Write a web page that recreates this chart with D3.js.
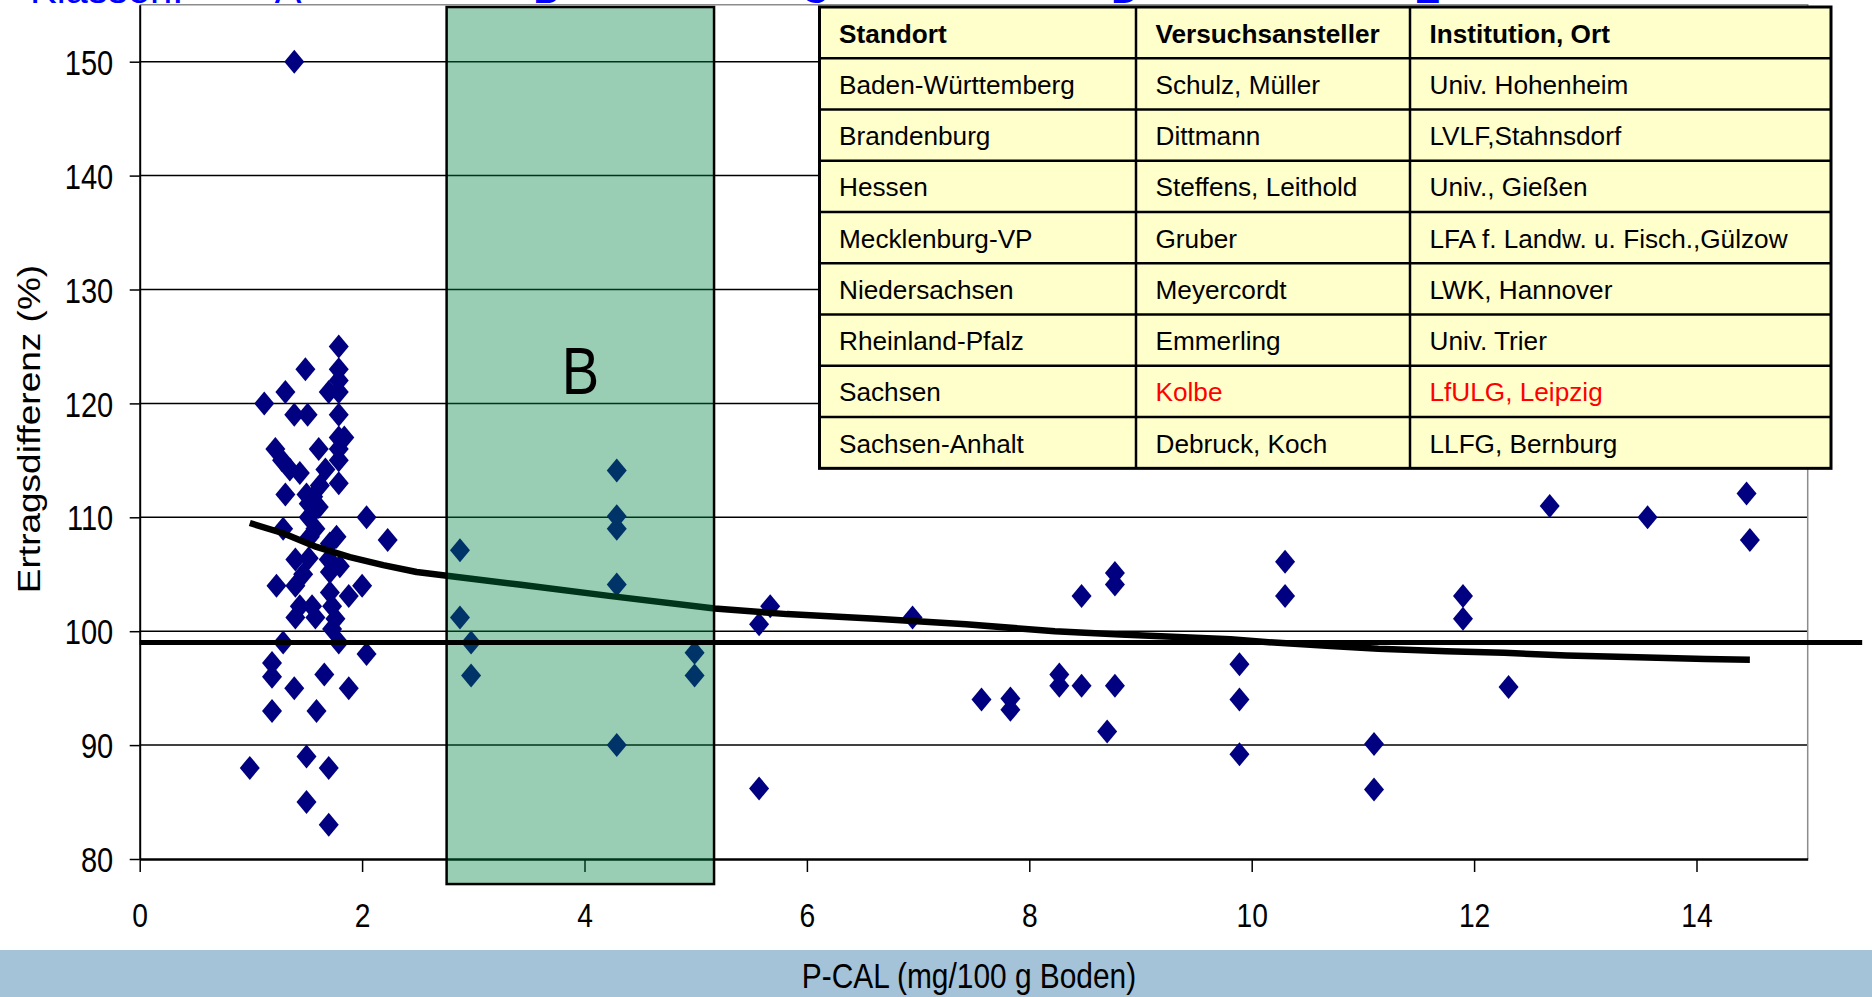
<!DOCTYPE html>
<html>
<head>
<meta charset="utf-8">
<script src="https://cdn.jsdelivr.net/npm/d3@7"></script>
<style>
  body { margin: 0; background: #fff; overflow: hidden; }
  svg { display: block; font-family: "Liberation Sans", Arial, sans-serif; }
</style>
</head>
<body>
<script>
// P-CAL values (mg/100 g Boden) and yield difference (%) per trial
const pCal = [
  1.39, 1.79, 1.49, 1.79, 1.79, 1.70, 1.79, 1.31, 1.12, 1.39,
  1.51, 1.79, 1.79, 1.84, 1.22, 1.61, 1.79, 1.28, 1.79, 1.35,
  1.44, 1.67, 1.79, 1.31, 1.50, 1.62, 1.56, 1.52, 1.61, 1.52,
  2.04, 1.29, 1.58, 1.77, 2.23, 1.71, 1.53, 1.40, 1.52, 1.70,
  1.80, 1.47, 1.71, 1.23, 1.40, 2.00, 1.71, 1.88, 1.44, 1.55,
  1.73, 1.40, 1.58, 1.76, 1.73, 1.29, 1.79, 2.04, 1.19, 1.19,
  1.66, 1.39, 1.88, 1.19, 1.59, 1.50, 0.99, 1.70, 1.50, 1.70,
  2.88, 2.88, 2.98, 2.98, 4.29, 4.29, 4.29, 4.29, 4.29, 4.99,
  4.99, 5.57, 5.67, 5.57, 6.95, 7.57, 7.83, 7.83, 8.27, 8.27,
  8.47, 8.47, 8.77, 8.77, 8.77, 8.70, 9.89, 9.89, 9.89, 10.30,
  10.30, 11.10, 11.10, 11.90, 11.90, 12.31, 12.68, 13.56, 14.45, 14.48
]
const ertrag = [
  150, 125, 123, 123, 122, 121, 121, 121, 120, 119,
  119, 119, 117, 117, 116, 116, 116, 115, 115, 114.2,
  113.9, 114.2, 113, 112, 112, 112.8, 111.8, 111.2, 110.9, 110,
  110, 109, 109, 108.3, 108, 107.7, 108.3, 106.3, 106.4, 106.3,
  105.7, 105, 105.2, 104, 104, 104, 103.4, 103.1, 102.2, 102.2,
  102.2, 101.2, 101.2, 101.1, 100.2, 99, 99, 98, 97.2, 96,
  96.2, 95, 95, 93, 93, 89, 88, 88, 85, 83,
  107.1, 101.2, 99, 96.1, 114.1, 110.1, 109, 104.1, 90, 98.1,
  96.1, 100.6, 102.2, 86.2, 101.2, 94, 94.1, 93.1, 96.2, 95.2,
  103.1, 95.2, 105.1, 104.1, 95.2, 91.2, 97.1, 94, 89.2, 106.1,
  103.1, 90.1, 86.1, 103.1, 101.1, 95.1, 111, 110, 112.1, 108
]

// trend line
const trendX = [0.99, 1.29, 1.59, 1.89, 2.19, 2.49, 3.41, 4.22, 5.17, 5.82, 6.62, 7.43,
                8.23, 8.82, 9.81, 10.20, 10.71, 11.14, 11.75, 12.27, 12.83, 13.47, 14.08, 14.48]
const trendY = [109.5, 108.6, 107.4, 106.5, 105.8, 105.2, 104.1, 103.1, 102.0, 101.5, 101.1, 100.6,
                100.0, 99.7, 99.3, 99.0, 98.7, 98.45, 98.25, 98.1, 97.87, 97.72, 97.55, 97.5]

const yTicks = [80, 90, 100, 110, 120, 130, 140, 150]
const xTicks = [0, 2, 4, 6, 8, 10, 12, 14]

const referenceValue = 99
const referenceEnd = 15.49
const bandB = [2.76, 5.165]
const bandLabel = 'B'

const tableHeader = ['Standort', 'Versuchsansteller', 'Institution, Ort']
const standort = ['Baden-Württemberg', 'Brandenburg', 'Hessen', 'Mecklenburg-VP',
                  'Niedersachsen', 'Rheinland-Pfalz', 'Sachsen', 'Sachsen-Anhalt']
const versuchsansteller = ['Schulz, Müller', 'Dittmann', 'Steffens, Leithold', 'Gruber',
                           'Meyercordt', 'Emmerling', 'Kolbe', 'Debruck, Koch']
const institution = ['Univ. Hohenheim', 'LVLF,Stahnsdorf', 'Univ., Gießen',
                     'LFA f. Landw. u. Fisch.,Gülzow', 'LWK, Hannover', 'Univ. Trier',
                     'LfULG, Leipzig', 'LLFG, Bernburg']
const highlightRow = 'Sachsen'

const klassenTitle = 'Klassen:'
const klassen = ['A', 'B', 'C', 'D', 'E']
const klassenPos = [288, 546, 815, 1125, 1427]

const xTitle = 'P-CAL (mg/100 g Boden)'
const yTitle = 'Ertragsdifferenz (%)'

const width = 1872
const height = 997
const squeeze = 0.83   // chart text is drawn horizontally condensed

const svg = d3.select('body')
  .append('svg')
  .attr('width', width)
  .attr('height', height)

const x = d3.scaleLinear().domain([0, 15]).range([139.7, 1807.7])
const y = d3.scaleLinear().domain([80, 155]).range([859, 4.75])

// grid lines
svg.append('g')
  .selectAll('line')
  .data(yTicks.filter(d => d > 80))
  .enter()
  .append('line')
  .attr('x1', x(0))
  .attr('x2', x(15))
  .attr('y1', d => y(d))
  .attr('y2', d => y(d))
  .attr('stroke', '#000')
  .attr('stroke-width', 1.5)

// plot area border (top + right)
svg.append('path')
  .attr('d', `M${x(0)},${y(155)}H${x(15)}V${y(80)}`)
  .attr('fill', 'none')
  .attr('stroke', '#8c8c8c')
  .attr('stroke-width', 1.5)

// y axis
const yAxis = svg.append('g')
  .attr('transform', `translate(${x(0)},0)`)
  .call(d3.axisLeft(y).tickValues(yTicks).tickSize(10).tickSizeOuter(0))
yAxis.select('.domain').attr('stroke', '#000').attr('stroke-width', 2)
yAxis.selectAll('.tick line').attr('stroke', '#000').attr('stroke-width', 1.5)
yAxis.selectAll('text')
  .attr('x', -26.5 / squeeze)
  .attr('dy', '0.36em')
  .attr('transform', `scale(${squeeze},1)`)
  .attr('font-size', 35)
  .attr('font-family', '"Liberation Sans", Arial, sans-serif')
  .attr('fill', '#000')

// x axis
const xAxis = svg.append('g')
  .attr('transform', `translate(0,${y(80)})`)
  .call(d3.axisBottom(x).tickValues(xTicks).tickSize(13).tickSizeOuter(0))
xAxis.select('.domain').attr('stroke', '#000').attr('stroke-width', 2.5)
xAxis.selectAll('.tick line').attr('stroke', '#000').attr('stroke-width', 1.5)
xAxis.selectAll('text')
  .attr('y', 68)
  .attr('dy', 0)
  .attr('transform', `scale(${squeeze},1)`)
  .attr('font-size', 34)
  .attr('font-family', '"Liberation Sans", Arial, sans-serif')
  .attr('fill', '#000')

// scatter points
const points = pCal.map((d, i) => ({ p: d, e: ertrag[i] }))
svg.append('g')
  .selectAll('path')
  .data(points)
  .enter()
  .append('path')
  .attr('d', 'M0,-12L10,0L0,12L-10,0Z')
  .attr('transform', d => `translate(${x(d.p)},${y(d.e)})`)
  .attr('fill', '#000080')

// trend line
const trend = trendX.map((d, i) => [d, trendY[i]])
svg.append('path')
  .datum(trend)
  .attr('d', d3.line().x(d => x(d[0])).y(d => y(d[1])))
  .attr('fill', 'none')
  .attr('stroke', '#000')
  .attr('stroke-width', 6.5)
  .attr('stroke-linejoin', 'round')

// class B band
svg.append('rect')
  .attr('x', x(bandB[0]))
  .attr('y', y(154.8))
  .attr('width', x(bandB[1]) - x(bandB[0]))
  .attr('height', y(77.8) - y(154.8))
  .attr('fill', 'rgb(0,130,68)')
  .attr('fill-opacity', 0.4)
  .attr('stroke', '#000')
  .attr('stroke-width', 2.5)

svg.append('text')
  .attr('transform', `translate(${(x(bandB[0]) + x(bandB[1])) / 2},394) scale(0.85,1)`)
  .attr('text-anchor', 'middle')
  .attr('font-size', 66)
  .attr('fill', '#000')
  .text(bandLabel)

// reference line
svg.append('line')
  .attr('x1', x(0))
  .attr('x2', x(referenceEnd))
  .attr('y1', y(referenceValue))
  .attr('y2', y(referenceValue))
  .attr('stroke', '#000')
  .attr('stroke-width', 5)

// table
const colX = [819.5, 1136, 1410, 1831]
const rowTop = 7
const rowH = 51.26
const rows = [tableHeader].concat(standort.map((s, i) => [s, versuchsansteller[i], institution[i]]))

const table = svg.append('g')
table.append('rect')
  .attr('x', colX[0])
  .attr('y', rowTop)
  .attr('width', colX[3] - colX[0])
  .attr('height', rowH * rows.length)
  .attr('fill', '#ffffcc')

table.selectAll('line.row')
  .data(d3.range(1, rows.length))
  .enter()
  .append('line')
  .attr('x1', colX[0])
  .attr('x2', colX[3])
  .attr('y1', d => rowTop + d * rowH)
  .attr('y2', d => rowTop + d * rowH)
  .attr('stroke', '#000')
  .attr('stroke-width', 2.5)

table.selectAll('line.col')
  .data([colX[1], colX[2]])
  .enter()
  .append('line')
  .attr('x1', d => d)
  .attr('x2', d => d)
  .attr('y1', rowTop)
  .attr('y2', rowTop + rowH * rows.length)
  .attr('stroke', '#000')
  .attr('stroke-width', 2.5)

table.append('rect')
  .attr('x', colX[0])
  .attr('y', rowTop)
  .attr('width', colX[3] - colX[0])
  .attr('height', rowH * rows.length)
  .attr('fill', 'none')
  .attr('stroke', '#000')
  .attr('stroke-width', 3)

rows.forEach((row, r) => {
  row.forEach((cell, c) => {
    table.append('text')
      .attr('x', colX[c] + 19.5)
      .attr('y', rowTop + r * rowH + 35.5)
      .attr('font-size', 26.2)
      .attr('font-weight', r === 0 ? 'bold' : 'normal')
      .attr('fill', (row[0] === highlightRow && c > 0) ? '#ff0000' : '#000')
      .text(cell)
  })
})

// class labels at the top (cut off by the picture edge, as in the original)
svg.append('text')
  .attr('x', 30)
  .attr('y', 3)
  .attr('font-size', 40)
  .attr('fill', '#0000ff')
  .text(klassenTitle)
svg.append('g')
  .selectAll('text')
  .data(klassen)
  .enter()
  .append('text')
  .attr('x', (d, i) => klassenPos[i])
  .attr('y', 3)
  .attr('text-anchor', 'middle')
  .attr('font-size', 40)
  .attr('fill', '#0000ff')
  .text(d => d)

// y title
svg.append('text')
  .attr('transform', `translate(40,429) scale(${squeeze},1) rotate(-90)`)
  .attr('text-anchor', 'middle')
  .attr('font-size', 37)
  .attr('fill', '#000')
  .text(yTitle)

// bottom band with x title
svg.append('rect')
  .attr('x', 0)
  .attr('y', 950)
  .attr('width', width)
  .attr('height', height - 950)
  .attr('fill', '#a4c2d8')

svg.append('text')
  .attr('transform', `translate(969,988) scale(${squeeze},1)`)
  .attr('text-anchor', 'middle')
  .attr('font-size', 36)
  .attr('fill', '#000')
  .text(xTitle)
</script>
</body>
</html>
